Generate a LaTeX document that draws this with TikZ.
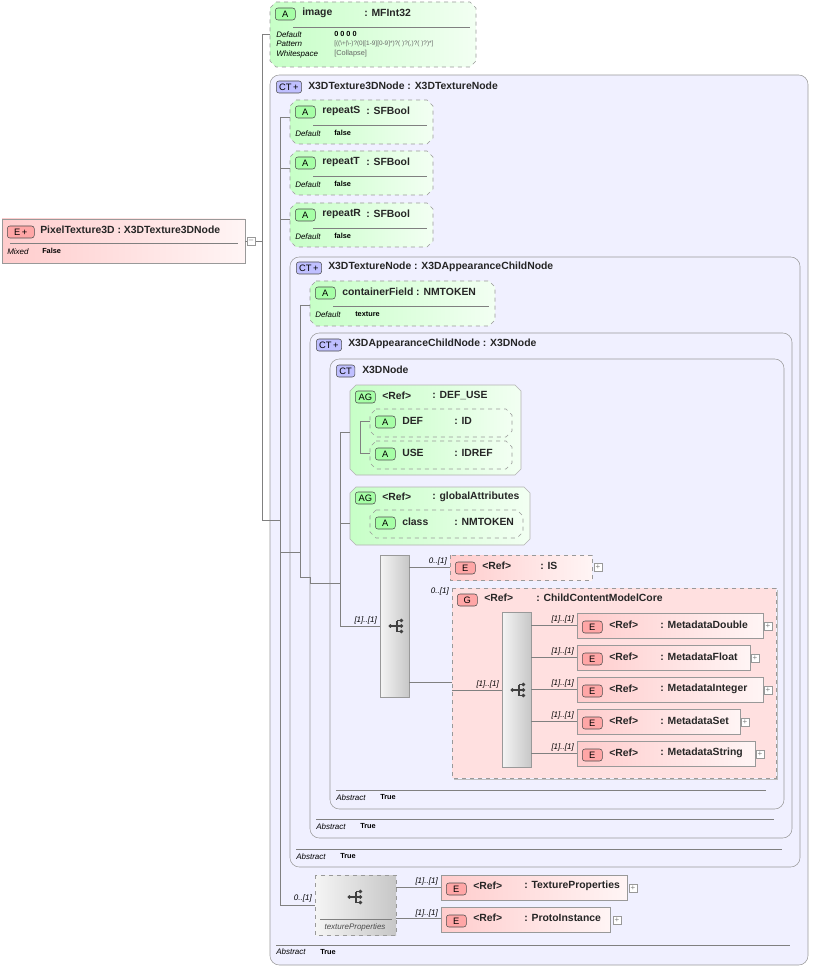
\documentclass[tikz,border=0pt]{standalone}
\usepackage{fontspec}
\setmainfont{Liberation Sans}
\begin{document}
\begin{tikzpicture}[x=0.75pt,y=-0.75pt,
  ct/.style={draw=black!40,fill=blue!6,rounded corners=7pt},
  attr/.style={draw=black!40,dashed,left color=green!22,right color=green!5},
  agbox/.style={draw=black!30,left color=green!22,right color=green!5},
  elem/.style={draw=black!40,left color=red!20,right color=red!4},
  elemd/.style={draw=black!40,dashed,left color=red!20,right color=red!4},
  grp/.style={draw=black!40,dashed,fill=red!12},
  cho/.style={draw=black!40,left color=black!4,right color=black!22},
  ln/.style={draw=black!50,line width=0.6pt},
  sep/.style={draw=black!50,line width=0.5pt},
  badge/.style={draw=black!70,rounded corners=2pt,anchor=west,inner sep=0pt,minimum height=9pt,font=\fontsize{7}{8}\selectfont},
  tt/.style={anchor=west,inner sep=0pt,font=\bfseries\fontsize{7.8}{9}\selectfont,text=black!85},
  sm/.style={anchor=west,inner sep=0pt,font=\bfseries\fontsize{5.5}{6}\selectfont},
  it/.style={anchor=west,inner sep=0pt,font=\itshape\fontsize{6}{7}\selectfont},
  card/.style={anchor=east,inner sep=0pt,font=\itshape\fontsize{6}{7}\selectfont},
  plus/.style={draw=black!40,fill=white,minimum size=6pt,inner sep=0pt,font=\fontsize{6}{6}\selectfont,text=black!50}]
\useasboundingbox (0,0) rectangle (813,969);
% helpers
\newcommand\oct[5]{\path[#1] (#2+6,#3) -- (#4-6,#3) -- (#4,#3+6) -- (#4,#5-6) -- (#4-6,#5) -- (#2+6,#5) -- (#2,#5-6) -- (#2,#3+6) -- cycle;}
\newcommand\bdg[4]{\node[badge,fill=#3,minimum width=#4] at (#1) {#2};}
\newcommand\icon[2]{\begin{scope}[shift={(#1,#2)},scale=1.1]
  \fill[black!75] (-6,0) circle (1.8); \draw[black!75,line width=0.8pt] (-6,0) -- (0,0) (0,-5) -- (0,5) (0,-5) -- (4,-5) (0,5) -- (4,5) (0,0)--(4,0);
  \fill[black!75] (4,-5) circle (1.8) (4,0) circle (1.8) (4,5) circle (1.8);\end{scope}}
\colorlet{ag}{green!35}\colorlet{eg}{red!35}\colorlet{cb}{blue!25}

% PixelTexture3D
\path[elem] (2,219) rectangle (245,263);
\bdg{7,232}{E\,+}{eg}{27pt*0.75}
\node[tt] at (40,230) {PixelTexture3D : X3DTexture3DNode};
\draw[sep] (10,243)--(238,243);
\node[it] at (7,252) {Mixed}; \node[sm] at (42,251) {False};

% image
\oct{attr}{270}{2}{476}{67}
\bdg{275,14}{A}{ag}{15pt}
\node[tt] at (302,13) {image}; \node[tt] at (364,13) {: MFInt32};
\draw[sep] (293,27)--(470,27);
\node[it] at (276,35) {Default}; \node[sm] at (334,34) {0 0 0 0};
\node[it] at (276,44) {Pattern}; \node[anchor=west,inner sep=0pt,font=\fontsize{4.8}{5}\selectfont,text=black!60] at (334,44) {[((\textbackslash+|\textbackslash-)?(0|[1-9][0-9]*)?( )?(,)?( )?)*]};
\node[it] at (276,54) {Whitespace}; \node[anchor=west,inner sep=0pt,font=\fontsize{5.5}{6}\selectfont,text=black!60] at (334,54) {[Collapse]};

% CT X3DTexture3DNode
\path[ct] (270,75) rectangle (808,965);
\bdg{276,87}{CT\,+}{cb}{19pt}
\node[tt] at (308,86) {X3DTexture3DNode : X3DTextureNode};
\draw[sep] (276,945)--(790,945);
\node[it] at (276,952) {Abstract}; \node[sm] at (320,952) {True};

% repeats
\foreach \y/\n in {100/S,151/T,203/R}{
 \oct{attr}{290}{\y}{433}{\y+44}
 \bdg{295,\y+12}{A}{ag}{15pt}
 \node[tt] at (322,\y+11) {repeat\n}; \node[tt] at (366,\y+11) {: SFBool};
 \draw[sep] (313,\y+25)--(427,\y+25);
 \node[it] at (295,\y+34) {Default}; \node[sm] at (334,\y+33) {false};}

% X3DTextureNode
\path[ct] (290,257) rectangle (800,867);
\bdg{296,268}{CT\,+}{cb}{19pt}
\node[tt] at (328,267) {X3DTextureNode : X3DAppearanceChildNode};
\draw[sep] (296,849)--(782,849);
\node[it] at (296,857) {Abstract}; \node[sm] at (340,856) {True};

% containerField
\oct{attr}{310}{281}{495}{326}
\bdg{315,293}{A}{ag}{15pt}
\node[tt] at (342,292) {containerField : NMTOKEN};
\draw[sep] (333,306)--(489,306);
\node[it] at (315,315) {Default}; \node[sm] at (355,314) {texture};

% X3DAppearanceChildNode
\path[ct] (310,333) rectangle (792,838);
\bdg{316,345}{CT\,+}{cb}{19pt}
\node[tt] at (348,344) {X3DAppearanceChildNode : X3DNode};
\draw[sep] (316,819)--(774,819);
\node[it] at (316,827) {Abstract}; \node[sm] at (360,826) {True};

% X3DNode
\path[ct] (330,359) rectangle (784,809);
\bdg{336,371}{CT}{cb}{14pt}
\node[tt] at (362,370) {X3DNode};
\draw[sep] (336,790)--(766,790);
\node[it] at (336,798) {Abstract}; \node[sm] at (380,797) {True};

% DEF_USE
\oct{agbox}{350}{385}{521}{475}
\bdg{355,397}{AG}{ag}{15pt}
\node[tt] at (382,396) {<Ref>}; \node[tt] at (432,396) {: DEF\_USE};
\oct{attr}{370}{409}{512}{437}
\bdg{375,422}{A}{ag}{15pt}
\node[tt] at (402,421) {DEF}; \node[tt] at (454,421) {: ID};
\oct{attr}{370}{441}{512}{469}
\bdg{375,454}{A}{ag}{15pt}
\node[tt] at (402,453) {USE}; \node[tt] at (454,453) {: IDREF};

% globalAttributes
\oct{agbox}{350}{487}{530}{545}
\bdg{355,498}{AG}{ag}{15pt}
\node[tt] at (382,497) {<Ref>}; \node[tt] at (432,497) {: globalAttributes};
\oct{attr}{370}{510}{523}{538}
\bdg{375,523}{A}{ag}{15pt}
\node[tt] at (402,522) {class}; \node[tt] at (454,522) {: NMTOKEN};

% choice
\path[cho] (380,555) rectangle (409,697);
\icon{397}{626}
\node[card] at (377,620) {[1]..[1]};

% IS
\path[elemd] (450,555) rectangle (592,580);
\bdg{455,568}{E}{eg}{15pt}
\node[tt] at (482,566) {<Ref>}; \node[tt] at (540,566) {: IS};
\node[card] at (447,561) {0..[1]};
\node[plus] at (598,567) {+};

% ChildContentModelCore
\path[grp] (452,588) rectangle (776,778);
\draw[black!25,line width=1.2pt] (454,779.5)--(777.5,779.5)--(777.5,590);
\bdg{457,600}{G}{eg}{15pt}
\node[tt] at (484,598) {<Ref>}; \node[tt] at (536,598) {: ChildContentModelCore};
\node[card] at (449,591) {0..[1]};
\path[cho] (502,612) rectangle (531,767);
\icon{519}{690}
\draw[ln] (452,690)--(502,690);
\node[card] at (499,684) {[1]..[1]};
\foreach \y/\w/\t in {613/763/MetadataDouble,645/750/MetadataFloat,677/763/MetadataInteger,709/740/MetadataSet,741/755/MetadataString}{
 \draw[ln] (531,\y+12)--(577,\y+12);
 \node[card] at (574,\y+6) {[1]..[1]};
 \path[elem] (577,\y) rectangle (\w,\y+25);
 \bdg{582,\y+14}{E}{eg}{15pt}
 \node[tt] at (609,\y+12) {<Ref>}; \node[tt] at (660,\y+12) {: \t};
 \node[plus] at (\w+5,\y+13) {+};}

% textureProperties
\path[cho,dashed] (315,875) rectangle (396,935);
\icon{356}{897}
\draw[sep] (320,919)--(392,919);
\node[anchor=center,inner sep=0pt,font=\itshape\fontsize{6}{7}\selectfont,text=black!70] at (355,927) {textureProperties};
\node[card] at (312,898) {0..[1]};
\node[card] at (438,881) {[1]..[1]};
\node[card] at (438,913) {[1]..[1]};
\path[elem] (441,875) rectangle (627,900);
\bdg{446,889}{E}{eg}{15pt}
\node[tt] at (473,886) {<Ref>}; \node[tt] at (524,886) {: TextureProperties};
\node[plus] at (633,888) {+};
\path[elem] (441,907) rectangle (610,932);
\bdg{446,921}{E}{eg}{15pt}
\node[tt] at (473,918) {<Ref>}; \node[tt] at (524,918) {: ProtoInstance};
\node[plus] at (617,920) {+};

% connectors (on top)
\draw[ln] (245,241) -- (262,241);
\node[plus] at (251,241) {--};
\draw[ln] (262,34) -- (262,520) (262,34)--(270,34) (262,520)--(280,520);
\draw[ln] (280,117) -- (280,905) (280,117)--(290,117) (280,168)--(290,168) (280,219)--(290,219) (280,552)--(300,552) (280,905)--(315,905);
\draw[ln] (300,305)--(300,577) (300,305)--(310,305) (300,577)--(310,577) (310,577)--(310,583) (310,583)--(340,583);
\draw[ln] (340,432)--(340,626) (340,432)--(350,432) (340,523)--(350,523) (340,626)--(380,626);
\draw[ln] (360,421)--(360,453) (360,421)--(370,421) (360,453)--(370,453);
\draw[ln] (409,567)--(450,567) (409,682)--(452,682);
\draw[ln] (396,887)--(441,887) (396,918)--(441,918);
\end{tikzpicture}
\end{document}
